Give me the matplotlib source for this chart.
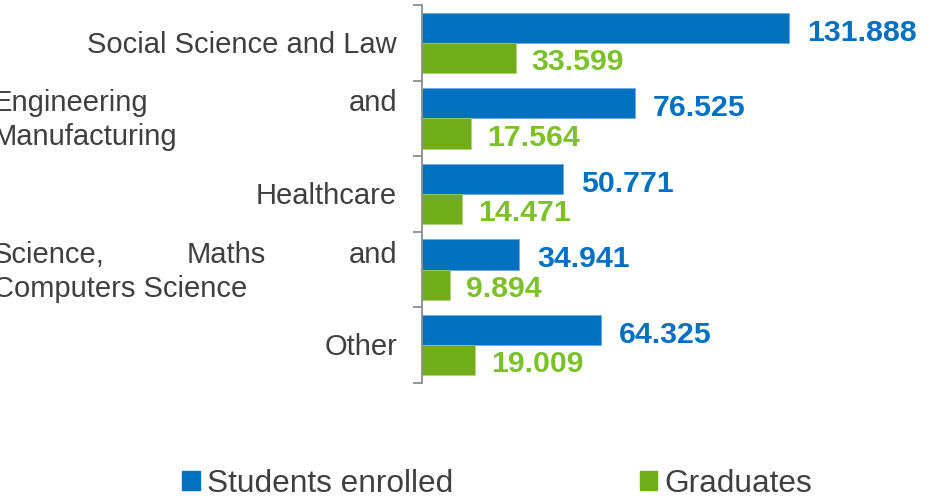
import matplotlib
matplotlib.use('Agg')
import numpy as np
import matplotlib.pyplot as plt
from matplotlib.patches import Patch

plt.rcParams['font.family'] = ['Liberation Sans', 'DejaVu Sans']

# data
categories = ['Social Science and Law', 'Engineering and\nManufacturing', 'Healthcare',
              'Science, Maths and\nComputers Science', 'Other']
enrolled = [131.888, 76.525, 50.771, 34.941, 64.325]
graduates = [33.599, 17.564, 14.471, 9.894, 19.009]
series_names = ['Students enrolled', 'Graduates']

blue = '#0070C0'
green_bar = '#70AD19'
green_txt = '#7CC12A'
grey_txt = '#3F3F3F'
axis_col = '#8C8C8C'

fig = plt.figure(figsize=(9.35, 4.99), dpi=100)
ax = fig.add_axes([422/935, 1 - 383/499, 1 - 422/935, 378/499])

pos = np.arange(len(categories))
bh = 0.4
ax.barh(pos - 0.2, enrolled, height=bh, color=blue, edgecolor='#5fa6df', linewidth=0.4)
ax.barh(pos + 0.2, graduates, height=bh, color=green_bar, edgecolor='#a9d36f', linewidth=0.4)

ax.set_xlim(0, 184.3)
ax.set_ylim(len(categories) - 0.5, -0.5)

for s in ['top', 'right', 'bottom']:
    ax.spines[s].set_visible(False)
ax.spines['left'].set_color(axis_col)
ax.spines['left'].set_linewidth(1.3)
ax.set_xticks([])
ax.set_yticks(np.arange(len(categories) + 1) - 0.5)
ax.set_yticklabels([])
ax.tick_params(axis='y', direction='out', length=6.5, width=1.3, color=axis_col)

# value labels
for i in range(len(categories)):
    ax.annotate(f'{enrolled[i]:.3f}', xy=(enrolled[i], pos[i] - 0.2), xytext=(18, -5),
                textcoords='offset pixels', ha='left', va='center', fontsize=21.8,
                fontweight='bold', color=blue)
    ax.annotate(f'{graduates[i]:.3f}', xy=(graduates[i], pos[i] + 0.2), xytext=(16, -4),
                textcoords='offset pixels', ha='left', va='center', fontsize=21.8,
                fontweight='bold', color=green_txt)

# category labels, justified like the original text boxes
label_kw = dict(fontsize=21, color=grey_txt)
left_px, right_px = -7, 397
line_gap = 34

fig.canvas.draw()
rend = fig.canvas.get_renderer()

def word_width(w):
    t = fig.text(0, 0, w, **label_kw)
    wd = t.get_window_extent(rend).width
    t.remove()
    return wd

def put(txt, x, y, yoff, ha):
    ax.annotate(txt, xy=(x, y), xycoords=('figure pixels', 'data'), xytext=(0, yoff),
                textcoords='offset pixels', ha=ha, va='center_baseline',
                annotation_clip=False, **label_kw)

for i, lab in enumerate(categories):
    lines = lab.split('\n')
    n = len(lines)
    if n == 1:
        put(lab, right_px, pos[i], 1, 'right')
        continue
    for j, line in enumerate(lines):
        yoff = (n - 1) / 2 * line_gap - j * line_gap + 1
        words = line.split(' ')
        if j == n - 1 or len(words) == 1:
            put(line, left_px, pos[i], yoff, 'left')
            continue
        widths = [word_width(w) for w in words]
        gap = (right_px - left_px - sum(widths)) / (len(words) - 1)
        x = left_px
        for w, wd in zip(words, widths):
            put(w, x, pos[i], yoff, 'left')
            x += wd + gap

handles = [Patch(color=blue), Patch(color=green_bar)]
fig.legend(handles, series_names, loc='center', bbox_to_anchor=(497/935, 1 - 484/499),
           ncol=2, frameon=False, fontsize=22.8, handlelength=0.55, handleheight=0.55,
           handletextpad=0.22, columnspacing=5.9, labelcolor=grey_txt)

fig.savefig('out.png', dpi=100)
